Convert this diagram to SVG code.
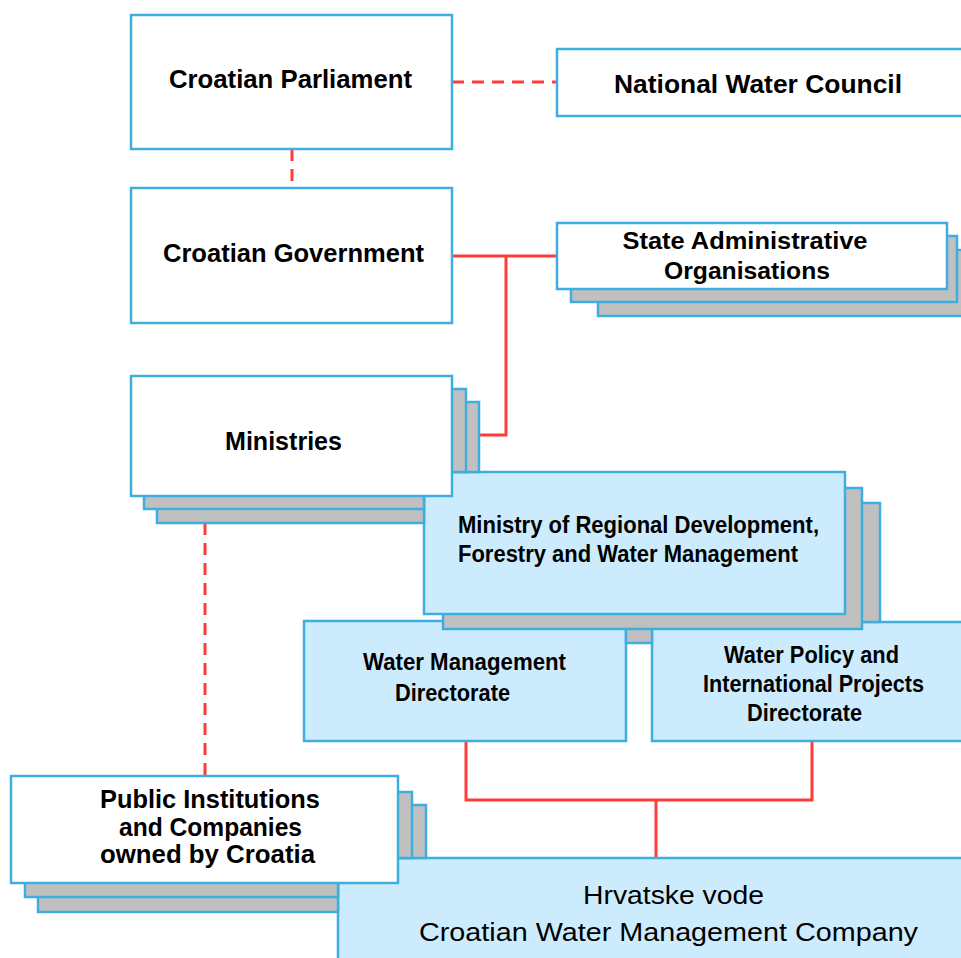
<svg xmlns="http://www.w3.org/2000/svg" width="961" height="958" viewBox="0 0 961 958">
<style>
.bx{stroke:#3eaee0;stroke-width:2.5}
.w{fill:#ffffff}
.b{fill:#ccecfd}
.g{fill:#c0c0c0}
.t{font-family:"Liberation Sans",Arial,sans-serif;font-weight:bold;font-size:25px;fill:#000;text-anchor:middle}
.s{font-size:23px}
.r{font-weight:normal;font-size:26px}
.c{stroke:#ff3c3c;stroke-width:3;fill:none}
.d{stroke-dasharray:12 8}
</style>
<rect width="961" height="958" fill="#ffffff"/>
<g id="connectors">
<path class="c d" d="M452 82H557"/>
<path class="c d" d="M292 149V188"/>
<path class="c" d="M452 256H557"/>
<path class="c" d="M506 256V435H479"/>
<path class="c d" d="M205 523V776"/>
<path class="c" d="M466 741V800H812V741"/>
<path class="c" d="M656 800V858"/>
</g>
<g id="state-admin">
<rect class="bx g" x="598" y="250" width="380" height="66"/>
<rect class="bx g" x="571" y="236" width="386" height="66"/>
<rect class="bx w" x="557" y="223" width="390" height="66"/>
<text class="t s" x="745" y="249" textLength="245" lengthAdjust="spacingAndGlyphs">State Administrative</text>
<text class="t s" x="747" y="279" textLength="166" lengthAdjust="spacingAndGlyphs">Organisations</text>
</g>
<g id="parliament">
<rect class="bx w" x="131" y="15" width="321" height="134"/>
<text class="t" x="290.5" y="88" textLength="243" lengthAdjust="spacingAndGlyphs">Croatian Parliament</text>
</g>
<g id="national-water-council">
<rect class="bx w" x="557" y="49" width="420" height="67"/>
<text class="t" x="758" y="93" textLength="288" lengthAdjust="spacingAndGlyphs">National Water Council</text>
</g>
<g id="government">
<rect class="bx w" x="131" y="188" width="321" height="135"/>
<text class="t" x="293.5" y="262" textLength="261" lengthAdjust="spacingAndGlyphs">Croatian Government</text>
</g>
<g id="water-management-directorate">
<rect class="bx b" x="304" y="621" width="322" height="120"/>
<text class="t s" x="464.5" y="670" textLength="203" lengthAdjust="spacingAndGlyphs">Water Management</text>
<text class="t s" x="452.5" y="701" textLength="115" lengthAdjust="spacingAndGlyphs">Directorate</text>
</g>
<g id="water-policy-directorate">
<rect class="bx b" x="652" y="622" width="330" height="119"/>
<text class="t s" x="811.5" y="663" textLength="175" lengthAdjust="spacingAndGlyphs">Water Policy and</text>
<text class="t s" x="813.5" y="692" textLength="221" lengthAdjust="spacingAndGlyphs">International Projects</text>
<text class="t s" x="804.5" y="721" textLength="115" lengthAdjust="spacingAndGlyphs">Directorate</text>
</g>
<g id="ministry-regional-development">
<path class="bx g" d="M460 503H880V622H652V643H626V621H460Z"/>
<rect class="bx g" x="443" y="488" width="419" height="141"/>
<rect class="bx b" x="424" y="472" width="421" height="142"/>
<text class="t s" x="458" y="533" style="text-anchor:start" textLength="361" lengthAdjust="spacingAndGlyphs">Ministry of Regional Development,</text>
<text class="t s" x="458" y="562" style="text-anchor:start" textLength="340" lengthAdjust="spacingAndGlyphs">Forestry and Water Management</text>
</g>
<g id="ministries">
<path class="bx g" d="M157 402H479V472H424V523H157Z"/>
<path class="bx g" d="M144 389H466V472H424V509H144Z"/>
<rect class="bx w" x="131" y="376" width="321" height="120"/>
<text class="t" x="283.5" y="450" textLength="117" lengthAdjust="spacingAndGlyphs">Ministries</text>
</g>
<g id="hrvatske-vode">
<rect class="bx b" x="338" y="858" width="640" height="120"/>
<text class="t r" x="673.5" y="904" textLength="181" lengthAdjust="spacingAndGlyphs">Hrvatske vode</text>
<text class="t r" x="668.5" y="941" textLength="499" lengthAdjust="spacingAndGlyphs">Croatian Water Management Company</text>
</g>
<g id="public-institutions">
<path class="bx g" d="M38 805H426V858H338V912H38Z"/>
<path class="bx g" d="M25 792H412V858H338V897H25Z"/>
<rect class="bx w" x="11" y="776" width="387" height="107"/>
<text class="t" x="210" y="808" textLength="220" lengthAdjust="spacingAndGlyphs">Public Institutions</text>
<text class="t" x="210.5" y="836" textLength="183" lengthAdjust="spacingAndGlyphs">and Companies</text>
<text class="t" x="207.5" y="863" textLength="215" lengthAdjust="spacingAndGlyphs">owned by Croatia</text>
</g>
</svg>
